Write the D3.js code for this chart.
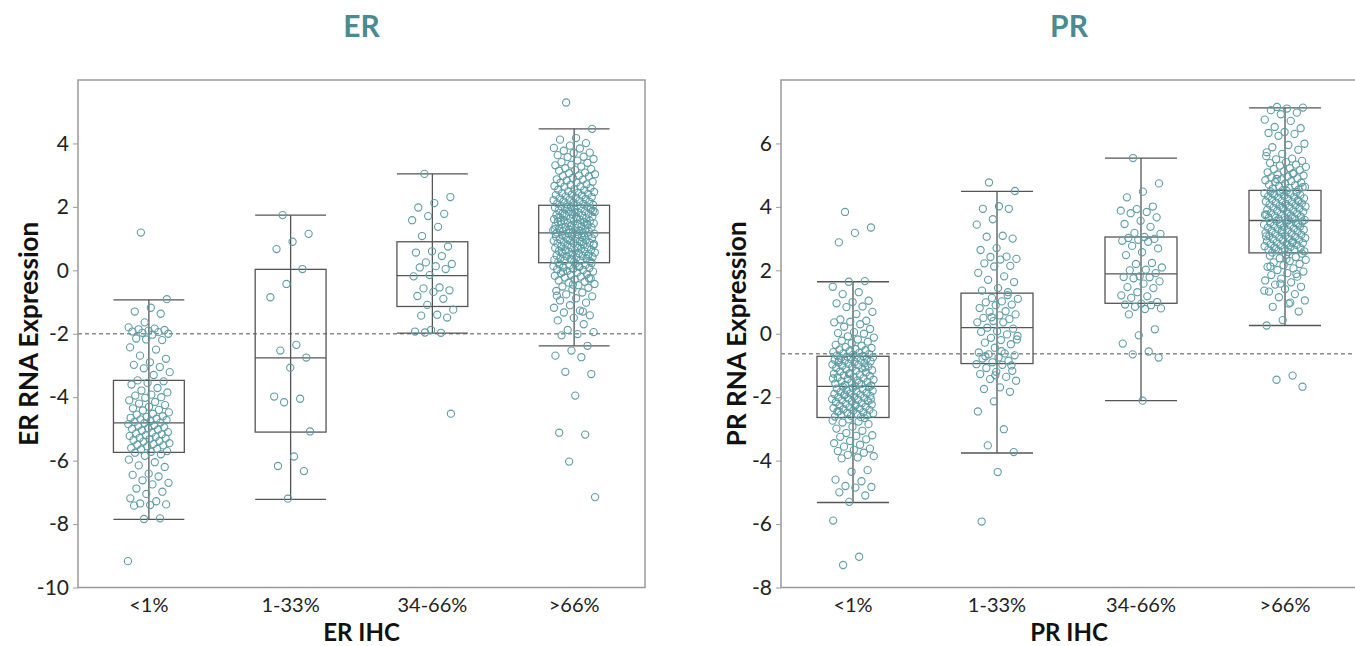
<!DOCTYPE html>
<html>
<head>
<meta charset="utf-8">
<script src="https://cdn.jsdelivr.net/npm/d3@7"></script>
<style>
   body { margin: 0; background: #fff; }
   svg text { font-family: Lato, "Open Sans", sans-serif; }
</style>
</head>
<body>
<div id="chart"></div>
<script>
// Categories shared by both panels
const categories = ["<1%", "1-33%", "34-66%", ">66%"]

// ER panel ticks and box stats (lowWhisker, q1, median, q3, highWhisker)
const erTicks = [-10, -8, -6, -4, -2, 0, 2, 4]
const erStats = [
   [-7.85, -5.74, -4.81, -3.47, -0.93],
   [-7.22, -5.10, -2.76, 0.03, 1.74],
   [-1.98, -1.14, -0.17, 0.90, 3.04],
   [-2.38, 0.24, 1.18, 2.05, 4.46]
]
const erCutoff = -2

// ER sample values per category
const erLow = [1.19, -0.91, -1.18, -1.30, -1.37, -1.64, -1.80, -1.84, -1.86, -1.88, -1.90, -1.93, -1.95, -1.97, -2.0, -2.03,
   -2.15, -2.20, -2.18, -2.43, -2.50, -2.69, -2.79, -2.90, -2.98, -3.05, -3.09, -3.21, -3.30, -3.47, -3.50, -3.55, -3.60,
   -3.71, -3.79, -3.85, -3.92, -3.95, -4.0, -4.02, -4.10, -4.15, -4.20, -4.25, -4.30, -4.35, -4.40, -4.42, -4.48, -4.52,
   -4.55, -4.60, -4.62, -4.65, -4.68, -4.70, -4.72, -4.75, -4.78, -4.80, -4.82, -4.85, -4.88, -4.90, -4.95, -4.98, -5.0,
   -5.02, -5.05, -5.10, -5.12, -5.15, -5.17, -5.20, -5.22, -5.25, -5.28, -5.30, -5.32, -5.35, -5.38, -5.40, -5.45, -5.48,
   -5.50, -5.52, -5.55, -5.60, -5.63, -5.65, -5.70, -5.72, -5.75, -5.80, -5.85, -5.97, -6.05, -6.15, -6.20, -6.41, -6.45,
   -6.50, -6.62, -6.70, -6.75, -6.88, -6.98, -7.05, -7.19, -7.28, -7.35, -7.38, -7.40, -7.42, -7.82, -7.84, -9.17]
const erMidLow = [1.74, 1.15, 0.90, 0.67, 0.04, -0.43, -0.85, -2.35, -2.53, -2.75, -3.07, -3.98, -4.05, -4.16, -5.08,
   -5.87, -6.17, -6.33, -7.2]
const erMidHigh = [3.04, 2.31, 2.12, 1.98, 1.78, 1.71, 1.58, 1.37, 1.08, 0.75, 0.60, 0.56, 0.45, 0.25, 0.20, 0.13, 0.09,
   0.04, -0.15, -0.19, -0.54, -0.57, -0.63, -0.68, -0.81, -0.90, -1.09, -1.24, -1.40, -1.43, -1.49, -1.88, -1.93, -1.97,
   -1.96, -4.52]
const erHigh = [5.29, 4.46, 4.17, 4.12, 4.01, 3.93, 3.86, 3.84, 3.77, 3.71, 3.70, 3.63, 3.58, 3.57, 3.51, 3.46, 3.41,
   3.39, 3.33, 3.31, 3.27, 3.22, 3.19, 3.16, 3.14, 3.08, 3.06, 3.03, 2.99, 2.97, 2.96, 2.91, 2.87, 2.86, 2.83, 2.79, 2.77,
   2.76, 2.71, 2.69, 2.66, 2.64, 2.63, 2.59, 2.56, 2.54, 2.53, 2.49, 2.47, 2.45, 2.43, 2.41, 2.39, 2.37, 2.36, 2.33, 2.31,
   2.29, 2.27, 2.25, 2.23, 2.21, 2.19, 2.17, 2.16, 2.13, 2.11, 2.09, 2.08, 2.06,
   2.04, 2.02, 2.01, 1.99, 1.98, 1.96, 1.93, 1.92, 1.91, 1.89, 1.86, 1.85, 1.84, 1.81, 1.79, 1.78, 1.77, 1.74, 1.73, 1.71,
   1.69, 1.68, 1.66, 1.64, 1.63, 1.61, 1.59, 1.58, 1.56, 1.55, 1.53, 1.51, 1.49, 1.48, 1.46, 1.45, 1.43, 1.41, 1.40, 1.38,
   1.36, 1.35, 1.33, 1.31, 1.29, 1.28, 1.26, 1.25, 1.23, 1.22, 1.20, 1.19, 1.18, 2.0, 1.87, 1.62, 1.54, 1.47, 1.39, 1.30,
   1.24, 1.76, 1.94, 1.83, 1.66, 1.52,
   1.17, 1.15, 1.13, 1.12, 1.10, 1.08, 1.06, 1.05, 1.03, 1.01, 0.99, 0.98, 0.96, 0.94, 0.93, 0.91, 0.89, 0.87, 0.86, 0.84,
   0.82, 0.80, 0.79, 0.77, 0.75, 0.73, 0.72, 0.70, 0.68, 0.66, 0.65, 0.63, 0.61, 0.59, 0.58, 0.56, 0.54, 0.52, 0.51, 0.49,
   0.47, 0.45, 0.44, 0.42, 0.40, 0.38, 0.37, 0.35, 0.33, 0.31, 0.30, 0.28, 0.26, 0.25, 1.09, 0.97, 0.83, 0.71, 0.57, 0.46,
   0.34, 1.14, 0.90, 0.62,
   0.23, 0.21, 0.19, 0.17, 0.15, 0.13, 0.11, 0.09, 0.07, 0.05, 0.03, 0.01, -0.02, -0.04, -0.07, -0.09, -0.12, -0.14, -0.17,
   -0.20, -0.23, -0.26, -0.29, -0.32, -0.36, -0.39, -0.43, -0.47, -0.51, -0.55, -0.60, -0.65, -0.70, -0.76, -0.82, -0.88,
   -0.95, -1.02, -1.10, -1.18, -1.27, -1.33, -1.42, -1.50, -1.58, -1.70, -1.88, -1.95, -2.01, -2.05, -2.38, -2.53, -2.69,
   -2.74, -3.20, -3.27, -3.95, -5.12, -5.18, -6.03, -7.15, 0.12, -0.05, -0.25, -0.45, -0.80, -1.30]

// PR panel ticks and box stats
const prTicks = [-8, -6, -4, -2, 0, 2, 4, 6]
const prStats = [
   [-5.32, -2.64, -1.66, -0.71, 1.64],
   [-3.76, -0.94, 0.19, 1.28, 4.49],
   [-2.11, 0.96, 1.89, 3.05, 5.54],
   [0.26, 2.55, 3.57, 4.52, 7.12]
]
const prCutoff = -0.63

// PR sample values per category
const prLow = [3.84, 3.35, 3.18, 2.88, 1.66, 1.64, 1.48, 1.31, 1.25, 1.04, 1.0, 0.96, 0.86, 0.84, 0.69, 0.62, 0.45,
   0.41, 0.38, 0.36, 0.30, 0.22, 0.15, 0.05, 0.02, 0.0, -0.08, -0.12, -0.18, -0.22, -0.25, -0.30, -0.35, -0.38, -0.42,
   -0.45, -0.48, -0.50, -0.52, -0.55, -0.58, -0.60, -0.62, -0.64, -0.66, -0.68, -0.70,
   -0.72, -0.74, -0.75, -0.77, -0.79, -0.80, -0.82, -0.84, -0.85, -0.87, -0.89, -0.91, -0.93, -0.95, -0.97, -0.99, -1.01,
   -1.03, -1.05, -1.08, -1.10, -1.12, -1.15, -1.17, -1.19, -1.22, -1.24, -1.26, -1.29, -1.31, -1.33, -1.36, -1.38, -1.40,
   -1.43, -1.45, -1.47, -1.50, -1.52, -1.54, -1.57, -1.59, -1.61, -1.63, -1.65, -0.83, -1.06, -1.27, -1.41, -1.55,
   -1.67, -1.69, -1.71, -1.73, -1.75, -1.78, -1.80, -1.82, -1.84, -1.86, -1.88, -1.90, -1.92, -1.94, -1.96, -1.98, -2.0,
   -2.02, -2.04, -2.06, -2.08, -2.10, -2.12, -2.14, -2.16, -2.19, -2.21, -2.23, -2.25, -2.27, -2.30, -2.32, -2.34, -2.36,
   -2.38, -2.40, -2.42, -2.45, -2.47, -2.49, -2.51, -2.53, -2.55, -2.57, -2.59, -2.61, -2.63, -1.91, -2.07, -2.28, -2.44,
   -2.66, -2.70, -2.74, -2.77, -2.80, -2.85, -2.93, -2.99, -3.06, -3.13, -3.20, -3.22, -3.25, -3.33, -3.38, -3.45, -3.50,
   -3.56, -3.62, -3.66, -3.70, -3.75, -3.82, -3.86, -3.90, -3.93, -4.30, -4.35, -4.60, -4.65, -4.80, -4.83, -4.85, -5.0,
   -5.10, -5.30, -5.89, -7.03, -7.29]
const prMidLow = [4.77, 4.50, 4.02, 3.94, 3.94, 3.61, 3.44, 3.09, 3.06, 3.0, 2.70, 2.64, 2.43, 2.42, 2.36, 2.34, 2.22,
   2.14, 2.12, 1.92, 1.81, 1.70, 1.63, 1.44, 1.36, 1.31, 1.13, 1.10, 1.02, 0.99, 0.92, 0.90, 0.81, 0.71, 0.69, 0.61, 0.58,
   0.50, 0.46, 0.40, 0.36, 0.36, 0.19, 0.16, 0.08, 0.06, -0.02, -0.13, -0.18, -0.20, -0.28, -0.33, -0.44, -0.59, -0.62,
   -0.65, -0.68, -0.75, -0.78, -0.85, -0.90, -0.96, -0.98, -1.08, -1.17, -1.20, -1.27, -1.36, -1.43, -1.48, -1.69, -1.74,
   -1.83, -2.13, -2.45, -3.01, -3.52, -3.73, -4.36, -5.92, 1.22, 0.52, -0.07, -0.55, -0.71, -1.0, -1.31]
const prMidHigh = [5.54, 4.74, 4.48, 4.30, 4.01, 3.93, 3.88, 3.84, 3.80, 3.67, 3.56, 3.46, 3.37, 3.18, 3.15, 3.05, 3.02,
   2.99, 2.96, 2.93, 2.90, 2.77, 2.69, 2.57, 2.48, 2.23, 2.20, 2.09, 2.02, 2.0, 1.91, 1.81, 1.79, 1.78, 1.75, 1.65, 1.58,
   1.47, 1.44, 1.31, 1.21, 1.18, 1.13, 1.0, 0.95, 0.92, 0.90, 0.85, 0.80, 0.78, 0.61, 0.14, -0.05, -0.31, -0.56, -0.65,
   -0.75, -2.11]
const prHigh = [7.15, 7.13, 7.10, 7.05, 6.97, 6.92, 6.75, 6.71, 6.52, 6.48, 6.36, 6.33, 6.30, 6.24, 5.99, 5.95, 5.88,
   5.80, 5.67, 5.60, 5.52, 5.50, 5.45, 5.41, 5.38, 5.33, 5.30, 5.26, 5.22, 5.19, 5.16, 5.12, 5.09, 5.06, 5.02, 4.99, 4.96,
   4.93, 4.90, 4.87, 4.84, 4.81, 4.78, 4.76, 4.73, 4.70, 4.68, 4.65, 4.63, 4.60, 4.58, 4.55, 4.53, 5.72, 5.05, 4.88, 4.62,
   4.51, 4.49, 4.47, 4.45, 4.43, 4.41, 4.39, 4.37, 4.35, 4.33, 4.31, 4.29, 4.27, 4.25, 4.23, 4.21, 4.19, 4.17, 4.15, 4.13,
   4.11, 4.09, 4.07, 4.05, 4.03, 4.01, 3.99, 3.97, 3.95, 3.93, 3.91, 3.89, 3.87, 3.85, 3.83, 3.81, 3.79, 3.77, 3.75, 3.73,
   3.71, 3.69, 3.67, 3.65, 3.63, 3.61, 3.59, 3.58, 4.42, 4.18, 3.98, 3.76, 3.64,
   3.56, 3.54, 3.52, 3.50, 3.48, 3.46, 3.44, 3.42, 3.40, 3.38, 3.36, 3.34, 3.32, 3.30, 3.28, 3.26, 3.24, 3.22, 3.20, 3.18,
   3.16, 3.14, 3.12, 3.10, 3.08, 3.06, 3.04, 3.02, 3.0, 2.98, 2.96, 2.94, 2.92, 2.90, 2.88, 2.86, 2.84, 2.82, 2.80, 2.78,
   2.76, 2.74, 2.72, 2.70, 2.68, 2.66, 2.64, 2.62, 2.60, 2.58, 2.56, 3.47, 3.27, 3.07, 2.87, 2.67,
   2.53, 2.49, 2.46, 2.42, 2.38, 2.33, 2.29, 2.25, 2.20, 2.16, 2.11, 2.06, 2.01, 1.96, 1.91, 1.85, 1.80, 1.74, 1.68, 1.62,
   1.55, 1.48, 1.41, 1.33, 1.25, 1.15, 1.05, 0.95, 0.85, 0.70, 0.43, 0.26, -1.32, -1.45, -1.67, 2.36, 2.12, 1.88, 1.58,
   1.36, 0.98]

const erGroups = [erLow, erMidLow, erMidHigh, erHigh]
const prGroups = [prLow, prMidLow, prMidHigh, prHigh]

const width = 1355, height = 646
const plotTop = 80, plotBottom = 587.5

const svg = d3.select("#chart").append("svg")
   .attr("width", width)
   .attr("height", height)

function drawPanel(cfg) {
   let g = svg.append("g")

   let x = d3.scaleBand().domain(categories).range([cfg.left, cfg.right])
   let y = d3.scaleLinear().domain(cfg.domain).range([plotBottom, plotTop])
   let boxW = x.bandwidth() / 2

   // Title
   g.append("text")
      .attr("x", (cfg.left + cfg.right) / 2)
      .attr("y", 37)
      .attr("text-anchor", "middle")
      .attr("font-size", 30)
      .attr("font-weight", 700)
      .attr("fill", "#4a8a92")
      .text(cfg.title)

   // Cutoff line
   g.append("line")
      .attr("x1", cfg.left).attr("x2", cfg.right)
      .attr("y1", y(cfg.cutoff)).attr("y2", y(cfg.cutoff))
      .attr("stroke", "#8a8a8a")
      .attr("stroke-width", 1.3)
      .attr("stroke-dasharray", "4,3")

   // Boxes
   let boxes = g.selectAll("g.box").data(cfg.stats).enter().append("g")
      .attr("class", "box")
      .attr("transform", (d, i) => "translate(" + (x(categories[i]) + x.bandwidth() / 2) + ",0)")

   boxes.append("line")
      .attr("y1", d => y(d[0])).attr("y2", d => y(d[4]))
      .attr("stroke", "#555").attr("stroke-width", 1.3)
   boxes.append("rect")
      .attr("x", -boxW / 2).attr("width", boxW)
      .attr("y", d => y(d[3])).attr("height", d => y(d[1]) - y(d[3]))
      .attr("fill", "none").attr("stroke", "#555").attr("stroke-width", 1.3)
   boxes.selectAll("line.cap").data(d => [d[0], d[2], d[4]]).enter().append("line")
      .attr("class", "cap")
      .attr("x1", -boxW / 2).attr("x2", boxW / 2)
      .attr("y1", d => y(d)).attr("y2", d => y(d))
      .attr("stroke", "#555").attr("stroke-width", 1.3)

   // Jittered points, offset spread by golden-ratio sequence
   cfg.groups.forEach(function(vals, i) {
      let cx = x(categories[i]) + x.bandwidth() / 2
      g.selectAll("circle.pt" + i).data(vals).enter().append("circle")
         .attr("class", "pt" + i)
         .attr("cx", (d, j) => cx + (((j * 0.6180339 + 0.31) % 1) - 0.5) * 42)
         .attr("cy", d => y(d))
         .attr("r", 3.6)
         .attr("fill", "none")
         .attr("stroke", "#5e9da5")
         .attr("stroke-width", 1.1)
   })

   // Frame
   g.append("rect")
      .attr("x", cfg.left).attr("y", plotTop)
      .attr("width", cfg.right - cfg.left).attr("height", plotBottom - plotTop)
      .attr("fill", "none").attr("stroke", "#999").attr("stroke-width", 1.5)

   // Y axis, plain hyphen minus signs as in the source
   let yAxis = g.append("g")
      .attr("transform", "translate(" + cfg.left + ",0)")
      .call(d3.axisLeft(y).tickValues(cfg.ticks).tickSize(5).tickPadding(4).tickFormat(d => String(d)))
   yAxis.select(".domain").remove()
   yAxis.selectAll(".tick line").attr("stroke", "#999")
   yAxis.selectAll(".tick text")
      .attr("font-size", 21)
      .attr("font-family", "Lato, sans-serif")
      .attr("fill", "#222")

   // Category labels
   g.selectAll("text.cat").data(categories).enter().append("text")
      .attr("class", "cat")
      .attr("x", d => x(d) + x.bandwidth() / 2)
      .attr("y", 612)
      .attr("text-anchor", "middle")
      .attr("font-size", 20)
      .attr("fill", "#222")
      .text(d => d)

   // Axis titles
   g.append("text")
      .attr("x", (cfg.left + cfg.right) / 2)
      .attr("y", 641)
      .attr("text-anchor", "middle")
      .attr("font-size", 24)
      .attr("font-weight", 700)
      .attr("fill", "#111")
      .text(cfg.xLabel)

   g.append("text")
      .attr("transform", "translate(" + cfg.yLabelX + "," + ((plotTop + plotBottom) / 2) + ") rotate(-90)")
      .attr("text-anchor", "middle")
      .attr("font-size", 26)
      .attr("font-weight", 700)
      .attr("fill", "#111")
      .text(cfg.yLabel)
}

drawPanel({
   left: 78, right: 645, domain: [-10, 6], ticks: erTicks,
   stats: erStats, groups: erGroups, cutoff: erCutoff,
   title: "ER", xLabel: "ER IHC", yLabel: "ER RNA Expression", yLabelX: 38
})

drawPanel({
   left: 781, right: 1357, domain: [-8, 8], ticks: prTicks,
   stats: prStats, groups: prGroups, cutoff: prCutoff,
   title: "PR", xLabel: "PR IHC", yLabel: "PR RNA Expression", yLabelX: 746
})
</script>
</body>
</html>
